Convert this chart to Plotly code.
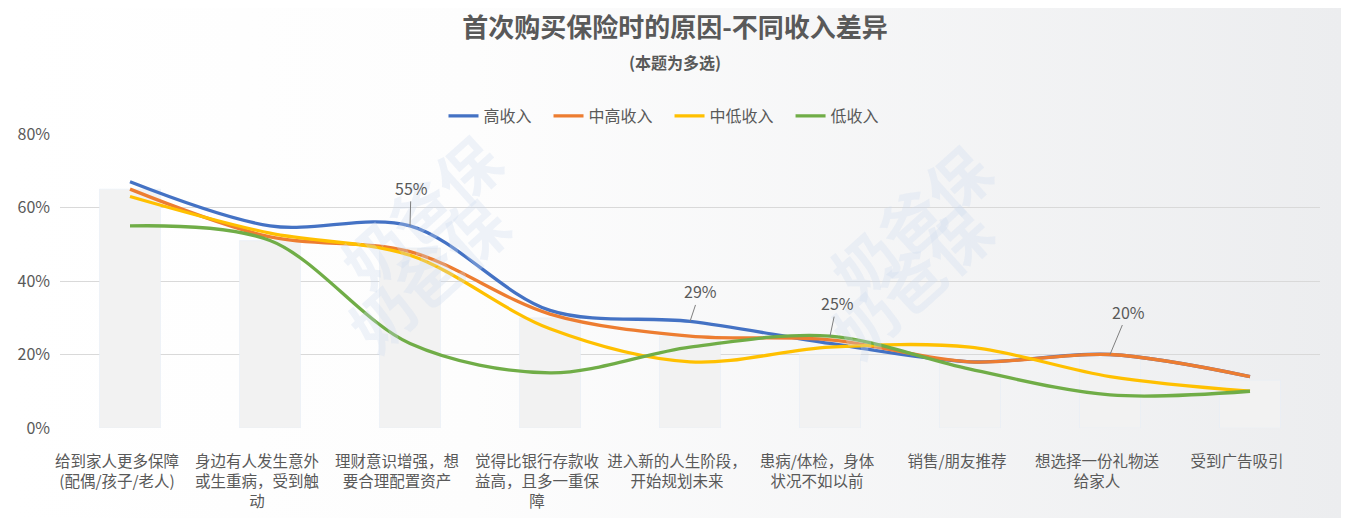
import base64
import plotly.graph_objects as go

categories = [
    "给到家人更多保障<br>(配偶/孩子/老人)",
    "身边有人发生意外<br>或生重病，受到触<br>动",
    "理财意识增强，想<br>要合理配置资产",
    "觉得比银行存款收<br>益高，且多一重保<br>障",
    "进入新的人生阶段，<br>开始规划未来",
    "患病/体检，身体<br>状况不如以前",
    "销售/朋友推荐",
    "想选择一份礼物送<br>给家人",
    "受到广告吸引",
]
overall = [65, 51, 49, 30, 25, 20, 18, 19, 13]
high = [67, 55, 55, 32, 29, 23, 18, 20, 14]
mid_high = [65, 52, 48, 31, 25, 24, 18, 20, 14]
mid_low = [63, 53, 47, 27, 18, 22, 22, 14, 10]
low = [55, 51, 23, 15, 22, 25, 16, 9, 10]

series = [
    ("高收入", high, "#4472C4"),
    ("中高收入", mid_high, "#ED7D31"),
    ("中低收入", mid_low, "#FFC000"),
    ("低收入", low, "#70AD47"),
]

FONT = "Noto Sans CJK SC, Noto Sans, sans-serif"
GREY = "#595959"
OFF = 8  # page body margin
W, H = 1349 - 2 * OFF, 526 - 2 * OFF
# plot area in window pixels: x 60..1320, y 134..428
L, T = 60 - OFF, 134 - OFF
R, B = W - (1320 - OFF), H - (428 - OFF)
PW, PH = W - L - R, H - T - B


def px(x, y):
    # window pixels -> paper coords
    return (x - OFF - L) / PW, (H - B - (y - OFF)) / PH


idx = list(range(len(categories)))

fig = go.Figure()
fig.add_bar(x=idx, y=overall, marker_color="#F2F2F2", showlegend=False,
            hoverinfo="skip")
for name, vals, col in series:
    fig.add_scatter(x=idx, y=vals, name=name + "\u2002\u2005", mode="lines",
                    line=dict(color=col, width=3.3, shape="spline", smoothing=0.95))

# background gradient
svg = ('<svg xmlns="http://www.w3.org/2000/svg" width="100" height="10" preserveAspectRatio="none">'
       '<defs><linearGradient id="g" x1="0" x2="1" y1="0" y2="0">'
       '<stop offset="0" stop-color="#FFFFFF"/><stop offset="0.35" stop-color="#FDFDFD"/>'
       '<stop offset="1" stop-color="#ECEDEF"/></linearGradient></defs>'
       '<rect width="100" height="10" fill="url(#g)"/></svg>')
src = "data:image/svg+xml;base64," + base64.b64encode(svg.encode()).decode()
x0, y0 = px(OFF, OFF)
x1, y1 = px(OFF + W, OFF + H)
fig.add_layout_image(source=src, xref="paper", yref="paper", x=x0, y=y0,
                     sizex=x1 - x0, sizey=y0 - y1, sizing="stretch",
                     xanchor="left", yanchor="top", layer="below")

# watermarks
for wx, wy in [(318, 112), (325, 372), (1012, 122), (1012, 378)]:
    ax_, ay_ = px(wx, wy)
    fig.add_annotation(text="<b>奶爸保</b>", x=ax_, y=ay_, xref="paper", yref="paper",
                       showarrow=False, textangle=-42,
                       font=dict(family=FONT, size=62, color="rgba(205,220,238,0.3)"))

# point labels
labels = [(2, high, 1, -38), (4, high, 10, -30), (5, low, 7, -33), (7, mid_high, 18, -43)]
for i, vals, dx, dy in labels:
    fig.add_annotation(x=i, y=vals[i], text=f"{vals[i]}%", showarrow=True,
                       arrowhead=0, arrowwidth=1, arrowcolor="#7F7F7F",
                       ax=dx, ay=dy, standoff=0,
                       font=dict(family=FONT, size=16, color=GREY))

sx, sy = px(675, 62)
fig.add_annotation(text="<b>(本题为多选)</b>", x=sx, xref="paper", y=sy, yref="paper",
                   xanchor="center", yanchor="middle", showarrow=False,
                   font=dict(family=FONT, size=16, color=GREY))

lx, ly = px(670, 116)
fig.update_layout(
    width=W, height=H,
    margin=dict(l=L, r=R, t=T, b=B),
    paper_bgcolor="white", plot_bgcolor="rgba(0,0,0,0)",
    font=dict(family=FONT, size=16, color=GREY),
    title=dict(text="<b>首次购买保险时的原因-不同收入差异</b>", x=px(675, 0)[0] * PW / W + L / W,
               xanchor="center", y=1 - (28 - OFF) / H, yanchor="middle",
               font=dict(family=FONT, size=26, color=GREY)),
    legend=dict(orientation="h", x=lx, xanchor="center", y=ly,
                yanchor="middle", font=dict(size=16, color=GREY),
                bgcolor="rgba(0,0,0,0)", itemwidth=30),
    bargap=0.564,
    showlegend=True,
)
fig.update_xaxes(range=[-0.5, len(categories) - 0.5], tickvals=idx, ticktext=categories,
                 tickangle=0, showgrid=False, zeroline=False, showline=False, ticks="",
                 automargin=False, ticklabelstandoff=22, ticklabelshift=-13,
                 tickfont=dict(size=15.5, color=GREY))
fig.update_yaxes(range=[0, 80], dtick=20, ticksuffix="%", showgrid=True,
                 gridcolor="#D9D9D9", gridwidth=1, zeroline=False, showline=False,
                 automargin=False, ticks="", ticklabelstandoff=9,
                 tickfont=dict(size=16, color=GREY))

fig.write_html("out.html")
